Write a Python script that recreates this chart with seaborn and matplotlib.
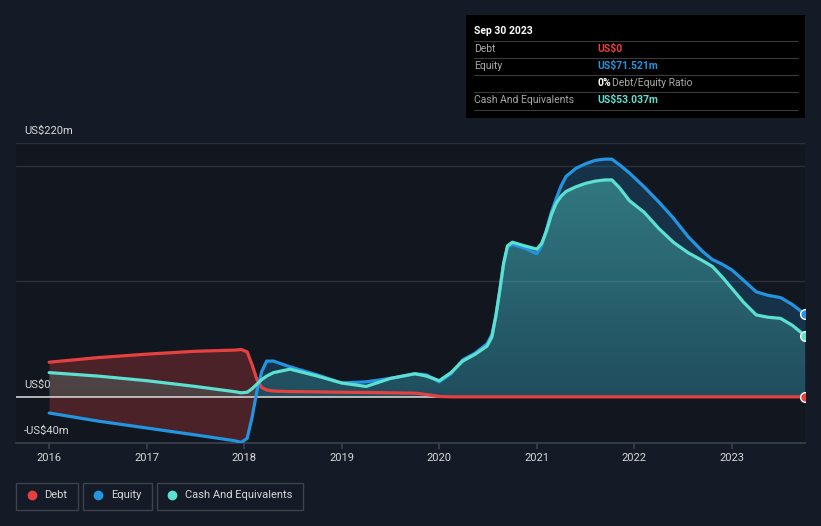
import numpy as np
import pandas as pd
import seaborn as sns
import matplotlib.pyplot as plt
from matplotlib.patches import Rectangle
from matplotlib.colors import LinearSegmentedColormap

# Data (decimal years, US$ millions)
years = [2016.0, 2016.5, 2017.0, 2017.5, 2017.9, 2017.97, 2018.03, 2018.08, 2018.13, 2018.18,
         2018.23, 2018.3, 2018.47, 2018.75, 2019.0, 2019.25, 2019.5, 2019.75, 2019.87, 2020.0,
         2020.12, 2020.24, 2020.37, 2020.49, 2020.54, 2020.58, 2020.62, 2020.66, 2020.7, 2020.75,
         2020.87, 2021.0, 2021.05, 2021.1, 2021.15, 2021.2, 2021.25, 2021.3, 2021.4, 2021.5,
         2021.6, 2021.7, 2021.77, 2021.85, 2021.95, 2022.1, 2022.25, 2022.4, 2022.55, 2022.7,
         2022.8, 2022.9, 2023.0, 2023.12, 2023.25, 2023.37, 2023.5, 2023.62, 2023.75]
debt = [30, 34, 37, 39.5, 40.5, 41, 39, 28, 15, 8,
        6, 5, 4.6, 4.3, 4, 3.8, 3.5, 3.2, 2, 0.3,
        0, 0, 0, 0, 0, 0, 0, 0, 0, 0,
        0, 0, 0, 0, 0, 0, 0, 0, 0, 0,
        0, 0, 0, 0, 0, 0, 0, 0, 0, 0,
        0, 0, 0, 0, 0, 0, 0, 0, 0]
equity = [-14, -21, -27, -33, -38, -39.5, -36, -18, 5, 22,
          31, 31, 26, 19, 12, 13, 16, 20, 19, 13,
          20, 32, 38, 46, 54, 70, 92, 115, 130, 132,
          129, 124, 131, 145, 160, 172, 183, 191, 198, 202,
          205, 206, 206, 201, 194, 182, 169, 155, 139, 126,
          119, 115, 110, 101, 91, 88, 86, 80, 71.521]
cash = [21, 18, 14, 9, 4.5, 3.5, 4, 7, 11, 15,
        18, 21, 24, 18, 12, 9, 16, 20, 18, 14,
        21, 31, 37, 44, 52, 70, 92, 116, 131, 134,
        131, 128, 133, 144, 158, 168, 174, 178, 182, 185,
        187, 188, 188, 181, 170, 160, 146, 134, 125, 118,
        113, 104, 94, 82, 71, 69, 68, 62, 53.037]

series_names = ["Debt", "Equity", "Cash And Equivalents"]
ytick_labels = {220: "US$220m", 0: "US$0", -40: "-US$40m"}

BG = "#151b26"
AX_BG = "#12171f"
RED = "#e64141"
BLUE = "#2394df"
TEAL = "#5ce0d0"
GRID = "#2b313c"
TXT = "#d8d8d8"

df = pd.DataFrame({"year": years, "Debt": debt, "Equity": equity,
                   "Cash And Equivalents": cash})
df_long = df.melt(id_vars="year", var_name="series", value_name="value")

sns.set_theme(style="dark")
plt.rcParams["font.family"] = ["Roboto", "DejaVu Sans"]

W, H = 821, 526
def px(x, y):
    return x / W, 1 - y / H

fig = plt.figure(figsize=(W / 100, H / 100), dpi=100, facecolor=BG)
ax = fig.add_axes([16 / W, 83 / H, 789 / W, 300 / H])
ax.set_facecolor(AX_BG)

x = np.array(years)
d = np.array(debt)
e = np.array(equity)
c = np.array(cash)
x0, x1 = 2015.66, 2023.75

# fills
ax.fill_between(x, d, e, where=d >= e, interpolate=True, color=RED, alpha=0.27, lw=0, zorder=1)
ax.fill_between(x, e, 0, where=e > 0, interpolate=True, color=BLUE, alpha=0.22, lw=0, zorder=1)

# cash area with vertical gradient
cash_poly = ax.fill_between(x, c, 0, color="none", lw=0, zorder=1)
grad_cmap = LinearSegmentedColormap.from_list(
    "cashgrad", [(0.36, 0.88, 0.82, 0.16), (0.36, 0.88, 0.82, 0.42)])
grad = np.linspace(0, 1, 256).reshape(-1, 1)
im = ax.imshow(grad, extent=[x0, x1, 0, 200], origin="lower", aspect="auto",
               cmap=grad_cmap, zorder=1, interpolation="bilinear")
im.set_clip_path(cash_poly.get_paths()[0], transform=ax.transData)

# grid + zero line
for g in [100, 200, 220]:
    ax.axhline(g, color=GRID, lw=1, zorder=0)
ax.axhline(0, color="#d0d0d0", lw=1.2, zorder=2)

sns.lineplot(data=df_long, x="year", y="value", hue="series", hue_order=series_names,
             palette=[RED, BLUE, TEAL], linewidth=2.3, legend=False, ax=ax, zorder=3)

# end markers
for vals, col in [(debt, RED), (equity, BLUE), (cash, TEAL)]:
    ax.plot(years[-1], vals[-1], "o", ms=7, mfc=col, mec="white", mew=1, zorder=4)

ax.set_xlim(x0, x1)
ax.set_ylim(-40, 220)
ax.set_xlabel("")
ax.set_ylabel("")
ax.set_yticks([])
ax.set_xticks(range(2016, 2024))
ax.set_xticklabels([str(y) for y in range(2016, 2024)], color=TXT, fontsize=8)
ax.tick_params(axis="x", direction="out", length=4, color="#3b414b", pad=3, bottom=True)
ax.grid(False)
for s in ["top", "left", "right"]:
    ax.spines[s].set_visible(False)
ax.spines["bottom"].set_color("#3b414b")

for val, lab in ytick_labels.items():
    ax.annotate(lab, xy=(0.01, val), xycoords=("axes fraction", "data"),
                xytext=(0, 8.5), textcoords="offset points", va="center", ha="left",
                color=TXT, fontsize=8)

# tooltip box
fig.add_artist(Rectangle(px(466, 118), 339 / W, 103 / H, transform=fig.transFigure,
                         facecolor="black", edgecolor="none"))
fig.text(*px(474, 31), "Sep 30 2023", color="white", fontsize=7.5, fontweight="bold", va="center")
for yy in [41, 58, 75, 92, 110]:
    fig.add_artist(plt.Line2D([474 / W, 798 / W], [1 - yy / H] * 2, transform=fig.transFigure,
                              color="#3a3a3a", lw=0.8))
rows = [("Debt", "US$0", RED, 49), ("Equity", "US$71.521m", BLUE, 66),
        ("Cash And Equivalents", "US$53.037m", TEAL, 100)]
for lab, v, col, yy in rows:
    fig.text(*px(474, yy), lab, color="#a8a8a8", fontsize=7.5, va="center")
    fig.text(*px(597, yy), v, color=col, fontsize=7.5, fontweight="bold", va="center")
fig.text(*px(597, 83), "0%", color="white", fontsize=7.5, fontweight="bold", va="center")
fig.text(*px(612, 83), "Debt/Equity Ratio", color="#a8a8a8", fontsize=7.5, va="center")

# legend boxes
legend_boxes = [(16, 78, 32, 44), (83, 152, 98, 111), (157, 303, 172, 185)]
for (bx0, bx1, cx, tx), name, col in zip(legend_boxes, series_names, [RED, BLUE, TEAL]):
    fig.add_artist(Rectangle(px(bx0, 510), (bx1 - bx0) / W, 27 / H, transform=fig.transFigure,
                             facecolor="none", edgecolor="#3d434d", lw=1))
    fig.add_artist(plt.Line2D([cx / W], [1 - 495 / H], marker="o", ms=6, color=col,
                              transform=fig.transFigure, lw=0))
    fig.text(*px(tx, 495), name, color=TXT, fontsize=8, va="center")

fig.savefig("out.png", dpi=100, facecolor=BG)
